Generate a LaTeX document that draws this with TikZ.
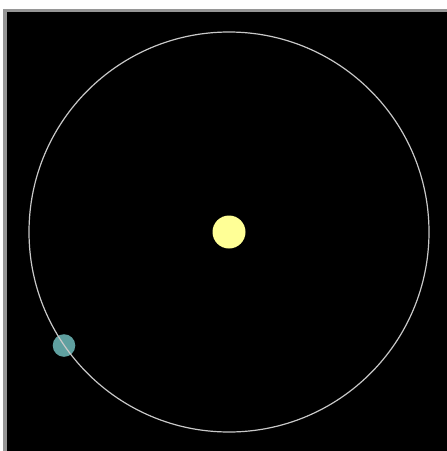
\documentclass[tikz,border=0pt]{standalone}
\definecolor{framegray}{RGB}{150,150,150}
\definecolor{orbitgray}{RGB}{200,200,200}
\definecolor{sunyellow}{RGB}{255,255,150}
\definecolor{planetteal}{RGB}{95,160,160}
\begin{document}
\begin{tikzpicture}[x=0.25mm,y=-0.25mm,line join=round]
  % Match the artwork frame before the standalone border is applied.
  \useasboundingbox (0,0) rectangle (447,451);
  \fill[white] (0,0) rectangle (447,451);

  % Window frame and black sky.
  \fill[framegray] (3,9) rectangle (447,451);
  \fill[black] (7,12) rectangle (447,451);

  % Orbit centre and planet position.
  \coordinate (c) at (229,232);
  \coordinate (p) at (64,345.5);

  % Sun first, then planet, orbit drawn on top.
  \fill[sunyellow] (c) circle[radius=16.5];
  \fill[planetteal] (p) circle[radius=11.3];
  \draw[orbitgray,line width=0.3mm] (c) circle[radius=200];
\end{tikzpicture}
\end{document}
